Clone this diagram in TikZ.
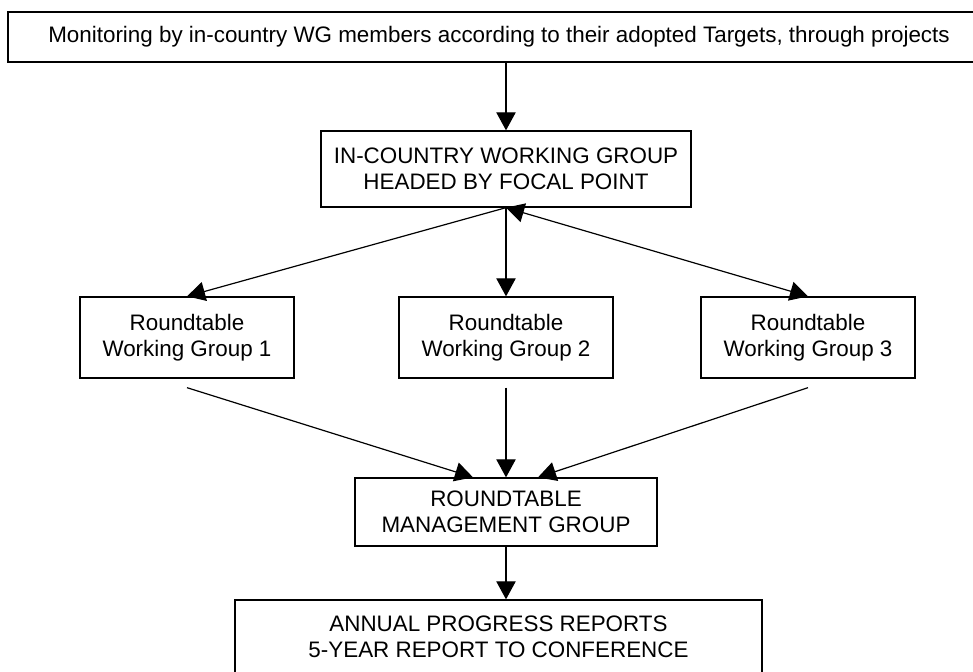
\documentclass[tikz,border=0pt]{standalone}
\usepackage{fontspec}
\setmainfont{Liberation Sans}
\usetikzlibrary{arrows.meta,calc}
\begin{document}
\begin{tikzpicture}[x=0.75pt,y=-0.75pt,
  box/.style={draw, line width=1pt, align=center, inner sep=0pt,
    font=\fontsize{16.8}{19.5}\selectfont},
  conn/.style={line width=0.9pt, -{Triangle[length=13.5pt,width=14.5pt]}},
  dconn/.style={line width=0.9pt, {Triangle[length=13.5pt,width=14.5pt]}-{Triangle[length=13.5pt,width=14.5pt]}}]
\path[use as bounding box] (0,0) rectangle (973,671);
\clip (0,0) rectangle (973,671);
\node[box, line width=1.5pt, minimum width=736.5pt, minimum height=37.5pt] (top) at (499,37)
  {Monitoring by in-country WG members according to their adopted Targets, through projects};
\node[box, minimum width=277.5pt, minimum height=57pt] (inc) at (506,169)
  {IN-COUNTRY WORKING GROUP\\HEADED BY FOCAL POINT};
\node[box, minimum width=160.5pt, minimum height=60.75pt] (wga) at (187,337.5)
  {Roundtable\\Working Group 1};
\node[box, minimum width=160.5pt, minimum height=60.75pt] (wgb) at (506,337.5)
  {Roundtable\\Working Group 2};
\node[box, minimum width=160.5pt, minimum height=60.75pt] (wgc) at (808,337.5)
  {Roundtable\\Working Group 3};
\node[box, minimum width=226.5pt, minimum height=51pt] (mgmt) at (506,512)
  {ROUNDTABLE\\MANAGEMENT GROUP};
\node[box, minimum width=395.25pt, minimum height=54.75pt] (rep) at (498.5,636.5)
  {ANNUAL PROGRESS REPORTS\\5-YEAR REPORT TO CONFERENCE};
\draw[conn] (inc.north |- top.south) -- (inc.north);
\draw[conn] (inc.south) -- (wga.north);
\draw[conn] (inc.south) -- (wgb.north);
\draw[dconn] (inc.south) -- (wgc.north);
\draw[conn] ([yshift=-6.75pt]wga.south) -- ([xshift=-24.75pt]mgmt.north);
\draw[conn] ([yshift=-6.75pt]wgb.south) -- (mgmt.north);
\draw[conn] ([yshift=-6.75pt]wgc.south) -- ([xshift=24pt]mgmt.north);
\draw[conn] (mgmt.south) -- (mgmt.south |- rep.north);
\end{tikzpicture}
\end{document}
